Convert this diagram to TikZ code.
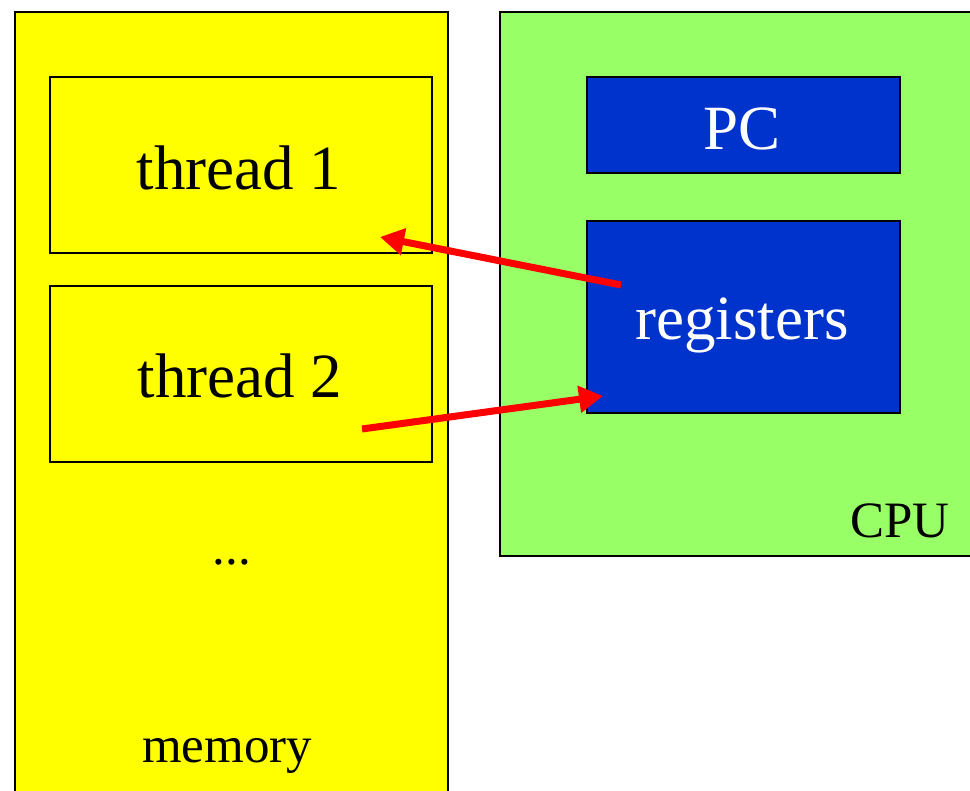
\documentclass[tikz,border=0pt]{standalone}
\usepackage{fontspec}
\setmainfont{Liberation Serif}
\usetikzlibrary{arrows.meta}
\definecolor{memyellow}{HTML}{FFFF00}
\definecolor{cpugreen}{HTML}{99FF66}
\definecolor{regblue}{HTML}{0033CC}
\definecolor{arrowred}{HTML}{FF0000}
\tikzset{
  box/.style={draw=black, line width=1.6pt},
  bigtext/.style={font=\fontsize{63}{70}\selectfont, anchor=base, inner sep=0pt},
  smalltext/.style={font=\fontsize{51}{60}\selectfont, anchor=base, inner sep=0pt},
  link/.style={draw=arrowred, line width=7pt, -{Triangle[length=24pt, width=26pt]}},
}
\begin{document}
\begin{tikzpicture}[x=1pt, y=-1pt]
  \useasboundingbox (0,0) rectangle (970,791);
  % memory and CPU panels (both run past the page edge)
  \path[box, fill=memyellow] (15,12) rectangle (448,820);
  \path[box, fill=cpugreen] (500,12) rectangle (1000,556);
  % thread slots in memory
  \node[box, fill=memyellow, minimum width=382pt, minimum height=176pt, anchor=north west, inner sep=0pt] (t1) at (49,76) {};
  \node[box, fill=memyellow, minimum width=382pt, minimum height=176pt, anchor=north west, inner sep=0pt] (t2) at (49,285) {};
  \node[bigtext] (t1lbl) at (239,190) {thread 1};
  \node[bigtext] (t2lbl) at (240,398) {thread 2};
  \node[smalltext] (dots) at (232,565) {...};
  \node[smalltext] (memlbl) at (227,762) {memory};
  % CPU state
  \node[box, fill=regblue, minimum width=313pt, minimum height=96pt, anchor=north west, inner sep=0pt] (pc) at (586,76) {};
  \node[box, fill=regblue, minimum width=313pt, minimum height=192pt, anchor=north west, inner sep=0pt] (regs) at (586,220) {};
  \node[bigtext, text=white] (pclbl) at (742,150) {PC};
  \node[bigtext, text=white] (reglbl) at (742,340) {registers};
  \node[smalltext] (cpulbl) at (900,537) {CPU};
  % context save / restore arrows
  \coordinate (saveFrom) at (621,285);
  \coordinate (saveTo) at (380,237);
  \coordinate (loadFrom) at (362,429);
  \coordinate (loadTo) at (603,396);
  \draw[link] (saveFrom) -- (saveTo);
  \draw[link] (loadFrom) -- (loadTo);
\end{tikzpicture}
\end{document}
